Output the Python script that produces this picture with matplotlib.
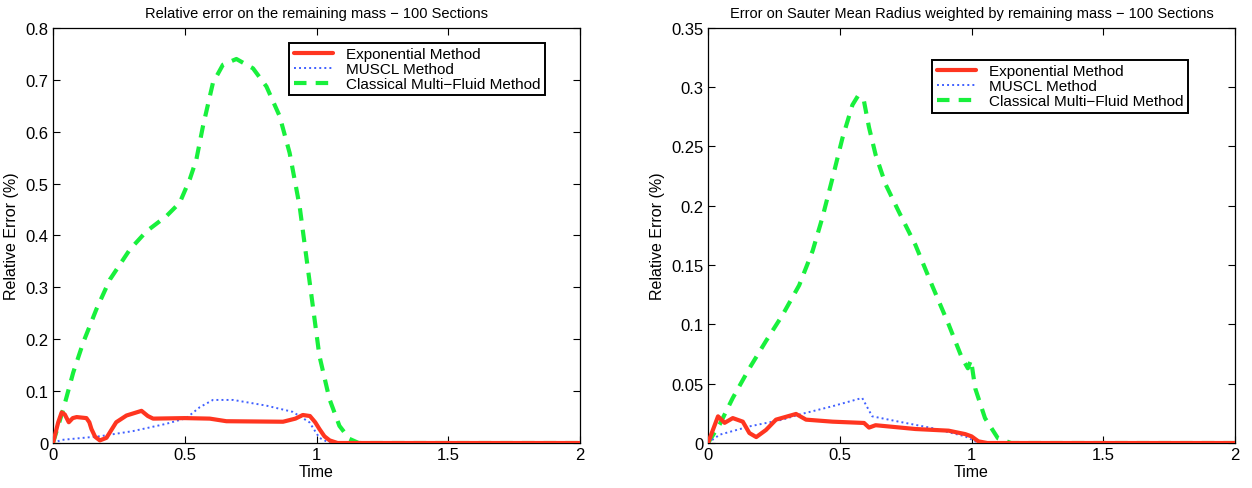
import numpy as np
import matplotlib
matplotlib.use("Agg")
import matplotlib.pyplot as plt

plt.rcParams['font.family'] = ['Liberation Sans', 'DejaVu Sans']

# remaining mass error
mass_exp_t = [0, 0.02, 0.033, 0.045, 0.06, 0.075, 0.09, 0.127, 0.138, 0.146, 0.16, 0.178, 0.203,
              0.24, 0.279, 0.336, 0.36, 0.38, 0.5, 0.595, 0.658, 0.873, 0.92, 0.948, 0.975,
              0.995, 1.011, 1.03, 1.05, 1.08, 1.2, 2.0]
mass_exp_v = [0, 0.04, 0.059, 0.055, 0.04, 0.048, 0.05, 0.048, 0.04, 0.027, 0.012, 0.005, 0.01,
              0.04, 0.053, 0.062, 0.052, 0.047, 0.048, 0.047, 0.042, 0.041, 0.047, 0.054, 0.052,
              0.04, 0.027, 0.013, 0.005, 0.0, 0.0, 0.0]

mass_muscl_t = [0, 0.033, 0.178, 0.304, 0.43, 0.506, 0.557, 0.607, 0.684, 0.81, 0.91,
                0.973, 1.011, 1.05, 1.2, 2.0]
mass_muscl_v = [0, 0.006, 0.013, 0.023, 0.037, 0.048, 0.069, 0.083, 0.083, 0.072, 0.06,
                0.04, 0.01, 0.0, 0.0, 0.0]

mass_cmf_t = [0, 0.039, 0.077, 0.115, 0.165, 0.216, 0.292, 0.355, 0.43, 0.481, 0.519, 0.544,
              0.569, 0.607, 0.645, 0.696, 0.759, 0.81, 0.86, 0.898, 0.936, 0.961, 0.986,
              1.011, 1.049, 1.087, 1.125, 1.16, 1.3, 2.0]
mass_cmf_v = [0, 0.065, 0.136, 0.194, 0.258, 0.315, 0.373, 0.408, 0.437, 0.463, 0.508, 0.546,
              0.61, 0.694, 0.729, 0.74, 0.722, 0.687, 0.63, 0.559, 0.456, 0.36, 0.264,
              0.168, 0.085, 0.033, 0.008, 0.0, 0.0, 0.0]

# sauter mean radius error
smr_exp_t = [0, 0.038, 0.063, 0.094, 0.132, 0.157, 0.183, 0.22, 0.258, 0.334, 0.372, 0.472,
             0.592, 0.611, 0.636, 0.787, 0.913, 0.976, 1.0, 1.026, 1.06, 1.2, 2.0]
smr_exp_v = [0, 0.0225, 0.017, 0.021, 0.018, 0.0084, 0.005, 0.011, 0.0197, 0.0245, 0.0197,
             0.018, 0.0169, 0.013, 0.015, 0.0118, 0.0104, 0.0075, 0.0056, 0.0014, 0.0, 0.0, 0.0]

smr_muscl_t = [0, 0.044, 0.157, 0.283, 0.346, 0.472, 0.585, 0.623, 0.724, 0.85, 0.976,
               1.014, 1.05, 1.2, 2.0]
smr_muscl_v = [0, 0.007, 0.014, 0.0197, 0.024, 0.031, 0.038, 0.0225, 0.018, 0.0126, 0.0056,
               0.0014, 0.0, 0.0, 0.0]

smr_cmf_t = [0, 0.044, 0.094, 0.157, 0.22, 0.283, 0.346, 0.397, 0.434, 0.472, 0.51, 0.548,
             0.57, 0.592, 0.611, 0.636, 0.674, 0.724, 0.787, 0.85, 0.913, 0.963, 0.986,
             0.998, 1.014, 1.051, 1.1, 1.15, 1.3, 2.0]
smr_cmf_v = [0, 0.0155, 0.038, 0.063, 0.086, 0.108, 0.133, 0.162, 0.19, 0.223, 0.257, 0.285,
             0.293, 0.288, 0.266, 0.243, 0.218, 0.195, 0.167, 0.133, 0.1, 0.072, 0.063,
             0.07, 0.046, 0.021, 0.004, 0.0, 0.0, 0.0]

labels = ["Exponential Method", "MUSCL Method", "Classical Multi\u2212Fluid Method"]
titles = ["Relative error on the remaining mass \u2212 100 Sections",
          "Error on Sauter Mean Radius weighted by remaining mass \u2212 100 Sections"]

red = "#ff3520"
blue = "#4060ff"
green = "#18f03c"

fig = plt.figure(figsize=(12.52, 4.89), dpi=100)
ax1 = fig.add_axes([0.0423, 0.092, 0.421, 0.849])
ax2 = fig.add_axes([0.5655, 0.092, 0.421, 0.849])


def draw(ax, exp, muscl, cmf, title, ymax, yticks, ylabels, leg_anchor):
    ax.plot(*exp, color=red, lw=3, label=labels[0], zorder=3,
            solid_joinstyle="round", solid_capstyle="round")
    ax.plot(*muscl, color=blue, lw=1.4, ls=(0, (1, 1.6)), label=labels[1], zorder=2)
    ax.plot(*cmf, color=green, lw=3, ls=(0, (3, 2.2)), label=labels[2], zorder=1,
            dash_joinstyle="round")
    ax.set_xlim(0, 2)
    ax.set_ylim(0, ymax)
    ax.set_xticks([0, 0.5, 1, 1.5, 2])
    ax.set_xticklabels(["0", "0.5", "1", "1.5", "2"])
    ax.set_yticks(yticks)
    ax.set_yticklabels(ylabels)
    ax.tick_params(direction="in", top=True, right=True, length=5, width=0.8,
                   labelsize=12, pad=3)
    for s in ax.spines.values():
        s.set_linewidth(0.9)
    ax.set_xlabel("Time", fontsize=11.5, labelpad=1)
    ax.set_ylabel("Relative Error (%)", fontsize=11.5, labelpad=5)
    ax.set_title(title, fontsize=10.5, pad=8)
    leg = ax.legend(loc="upper left", bbox_to_anchor=leg_anchor, borderaxespad=0,
                    fancybox=False, framealpha=1, edgecolor="black", fontsize=11,
                    handlelength=2.6, labelspacing=0.05, borderpad=0.3, handletextpad=0.8)
    leg.get_frame().set_linewidth(1.4)


draw(ax1, (mass_exp_t, mass_exp_v), (mass_muscl_t, mass_muscl_v), (mass_cmf_t, mass_cmf_v),
     titles[0], 0.8, np.arange(0, 0.81, 0.1),
     ["0", "0.1", "0.2", "0.3", "0.4", "0.5", "0.6", "0.7", "0.8"], (0.448, 0.964))
draw(ax2, (smr_exp_t, smr_exp_v), (smr_muscl_t, smr_muscl_v), (smr_cmf_t, smr_cmf_v),
     titles[1], 0.35, np.arange(0, 0.351, 0.05),
     ["0", "0.05", "0.1", "0.15", "0.2", "0.25", "0.3", "0.35"], (0.425, 0.923))

fig.savefig("out.png", dpi=100)
